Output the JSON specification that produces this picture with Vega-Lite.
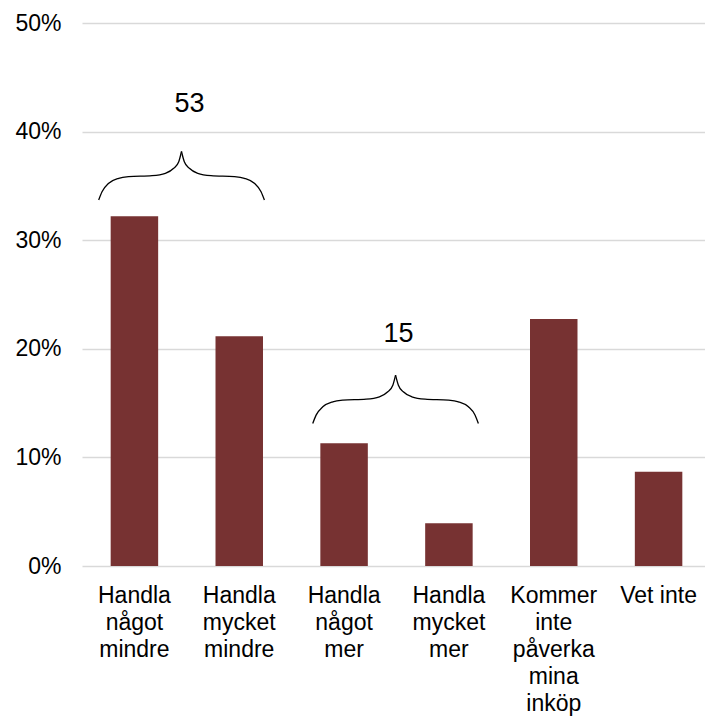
{
  "$schema": "https://vega.github.io/schema/vega-lite/v6.json",
  "autosize": "none",
  "width": 623,
  "height": 543,
  "padding": {"left": 82, "top": 23, "right": 0, "bottom": 150},
  "config": {
    "view": {"stroke": null},
    "font": "Liberation Sans",
    "axis": {"labelFont": "Liberation Sans", "labelColor": "#000000"}
  },
  "datasets": {
    "bars": [
      {"kategori": "Handla något mindre", "andel": 0.322},
      {"kategori": "Handla mycket mindre", "andel": 0.2115},
      {"kategori": "Handla något mer", "andel": 0.113},
      {"kategori": "Handla mycket mer", "andel": 0.0394},
      {"kategori": "Kommer inte påverka mina inköp", "andel": 0.2275},
      {"kategori": "Vet inte", "andel": 0.0867}
    ],
    "braces": [
      {"seg": "a1", "i": 0, "bx": 0.159, "by": 0.3370},
      {"seg": "a1", "i": 1, "bx": 0.191, "by": 0.3446},
      {"seg": "a1", "i": 2, "bx": 0.255, "by": 0.3524},
      {"seg": "a1", "i": 3, "bx": 0.350, "by": 0.3570},
      {"seg": "a1", "i": 4, "bx": 0.446, "by": 0.3585},
      {"seg": "a1", "i": 5, "bx": 0.668, "by": 0.3594},
      {"seg": "a1", "i": 6, "bx": 0.795, "by": 0.3616},
      {"seg": "a1", "i": 7, "bx": 0.875, "by": 0.3662},
      {"seg": "a1", "i": 8, "bx": 0.923, "by": 0.3723},
      {"seg": "a1", "i": 9, "bx": 0.949, "by": 0.3817},
      {"seg": "a2", "i": 0, "bx": 0.949, "by": 0.3817},
      {"seg": "a2", "i": 1, "bx": 0.976, "by": 0.3723},
      {"seg": "a2", "i": 2, "bx": 1.024, "by": 0.3662},
      {"seg": "a2", "i": 3, "bx": 1.104, "by": 0.3616},
      {"seg": "a2", "i": 4, "bx": 1.231, "by": 0.3594},
      {"seg": "a2", "i": 5, "bx": 1.453, "by": 0.3585},
      {"seg": "a2", "i": 6, "bx": 1.549, "by": 0.3570},
      {"seg": "a2", "i": 7, "bx": 1.644, "by": 0.3524},
      {"seg": "a2", "i": 8, "bx": 1.708, "by": 0.3446},
      {"seg": "a2", "i": 9, "bx": 1.740, "by": 0.3370},
      {"seg": "b1", "i": 0, "bx": 2.201, "by": 0.1312},
      {"seg": "b1", "i": 1, "bx": 2.233, "by": 0.1389},
      {"seg": "b1", "i": 2, "bx": 2.297, "by": 0.1466},
      {"seg": "b1", "i": 3, "bx": 2.392, "by": 0.1512},
      {"seg": "b1", "i": 4, "bx": 2.488, "by": 0.1527},
      {"seg": "b1", "i": 5, "bx": 2.710, "by": 0.1536},
      {"seg": "b1", "i": 6, "bx": 2.837, "by": 0.1558},
      {"seg": "b1", "i": 7, "bx": 2.917, "by": 0.1604},
      {"seg": "b1", "i": 8, "bx": 2.965, "by": 0.1665},
      {"seg": "b1", "i": 9, "bx": 2.991, "by": 0.1758},
      {"seg": "b2", "i": 0, "bx": 2.991, "by": 0.1758},
      {"seg": "b2", "i": 1, "bx": 3.018, "by": 0.1665},
      {"seg": "b2", "i": 2, "bx": 3.065, "by": 0.1604},
      {"seg": "b2", "i": 3, "bx": 3.146, "by": 0.1558},
      {"seg": "b2", "i": 4, "bx": 3.273, "by": 0.1536},
      {"seg": "b2", "i": 5, "bx": 3.495, "by": 0.1527},
      {"seg": "b2", "i": 6, "bx": 3.591, "by": 0.1512},
      {"seg": "b2", "i": 7, "bx": 3.686, "by": 0.1466},
      {"seg": "b2", "i": 8, "bx": 3.750, "by": 0.1389},
      {"seg": "b2", "i": 9, "bx": 3.781, "by": 0.1312}
    ],
    "labels": [
      {"txt": "53", "lx": 1.025, "ly": 0.4183},
      {"txt": "15", "lx": 3.019, "ly": 0.2066}
    ]
  },
  "layer": [
    {
      "data": {"name": "bars"},
      "mark": {"type": "bar", "color": "#773232"},
      "encoding": {
        "x": {
          "field": "kategori",
          "type": "nominal",
          "sort": null,
          "scale": {"range": [0, 629], "paddingInner": 0.547, "paddingOuter": 0.2735},
          "axis": {
            "title": null,
            "labelAngle": 0,
            "labelFontSize": 23,
            "labelLineHeight": 27,
            "labelPadding": 18,
            "labelLimit": 0,
            "domain": false,
            "ticks": false,
            "grid": false,
            "labelExpr": "datum.label == 'Vet inte' ? datum.label : split(datum.label, ' ')"
          }
        },
        "y": {
          "field": "andel",
          "type": "quantitative",
          "scale": {"domain": [0, 0.5], "nice": false},
          "axis": {
            "title": null,
            "values": [0, 0.1, 0.2, 0.3, 0.4, 0.5],
            "format": ".0%",
            "labelFontSize": 23,
            "labelPadding": 21,
            "domain": false,
            "ticks": false,
            "grid": true,
            "gridColor": "#d9d9d9",
            "gridWidth": 1.5
          }
        }
      }
    },
    {
      "layer": [
        {
          "data": {"name": "braces"},
          "mark": {"type": "line", "interpolate": "monotone", "color": "#000000", "strokeWidth": 1.3},
          "encoding": {
            "x": {"field": "bx", "type": "quantitative", "scale": {"domain": [0, 6], "range": [0, 629], "nice": false, "zero": false}, "axis": null},
            "y": {"field": "by", "type": "quantitative"},
            "detail": {"field": "seg", "type": "nominal"},
            "order": {"field": "i", "type": "quantitative"}
          }
        },
        {
          "data": {"name": "labels"},
          "mark": {"type": "text", "fontSize": 27, "align": "center", "baseline": "alphabetic", "color": "#000000", "font": "Liberation Sans"},
          "encoding": {
            "x": {"field": "lx", "type": "quantitative", "axis": null},
            "y": {"field": "ly", "type": "quantitative"},
            "text": {"field": "txt", "type": "nominal"}
          }
        }
      ]
    }
  ],
  "resolve": {"scale": {"x": "independent"}}
}
